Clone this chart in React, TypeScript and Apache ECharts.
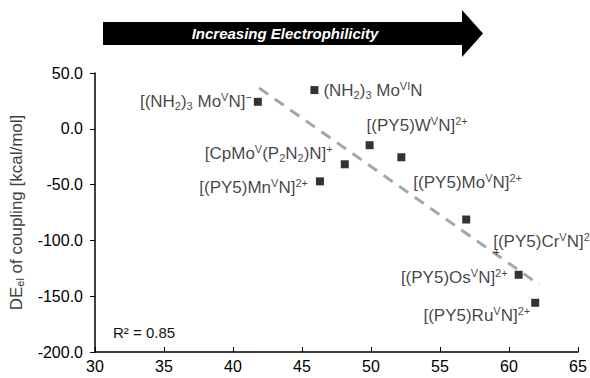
import React, { useEffect, useRef } from "react";
import * as echarts from "echarts";

const names = [
  "{n|[(NH}{sub|2}{n|)}{sub|3}{n| Mo}{sup|V}{n|N]}{sup|−}",
  "{n|(NH}{sub|2}{n|)}{sub|3}{n| Mo}{sup|VI}{n|N}",
  "{n|[CpMo}{sup|V}{n|(P}{sub|2}{n|N}{sub|2}{n|)N]}{sup|+}",
  "{n|[(PY5)Mn}{sup|V}{n|N]}{sup|2+}",
  "{n|[(PY5)W}{sup|V}{n|N]}{sup|2+}",
  "{n|[(PY5)Mo}{sup|V}{n|N]}{sup|2+}",
  "{n|[(PY5)Cr}{sup|V}{n|N]}{sup|2}\n{wrap|+}",
  "{n|[(PY5)Os}{sup|V}{n|N]}{sup|2+}",
  "{n|[(PY5)Ru}{sup|V}{n|N]}{sup|2+}",
];
const xValues = [41.8, 45.9, 48.1, 46.3, 49.9, 52.2, 56.9, 60.7, 61.9];
const yValues = [24.2, 34.7, -31.8, -47.1, -14.7, -25.5, -81.3, -130.8, -155.9];
const trendX = [41.9, 62.2];
const trendY = [36.5, -139.7];
const yTicks = [-200, -150, -100, -50, 0, 50];
const xTicks = [30, 35, 40, 45, 50, 55, 60, 65];

const labelPlacement: Array<{ position: string; offset: [number, number] }> = [
  { position: "left", offset: [3, 0] },
  { position: "right", offset: [0, 0] },
  { position: "left", offset: [-3, -11] },
  { position: "left", offset: [-3, 6] },
  { position: "right", offset: [-12, -20] },
  { position: "right", offset: [3, 25] },
  { position: "right", offset: [18, 22.5] },
  { position: "left", offset: [-2, 3] },
  { position: "left", offset: [4, 13] },
];

const FONT = "'Liberation Sans', Arial, sans-serif";

export default function App() {
  const ref = useRef<HTMLDivElement>(null);
  useEffect(() => {
    if (!ref.current) return;
    const chart = echarts.init(ref.current, undefined, { renderer: "svg" });
    const rich = {
      n: { fontSize: 17, lineHeight: 20, fontFamily: FONT, color: "#111" },
      sup: { fontSize: 11, lineHeight: 11, verticalAlign: "top", fontFamily: FONT, color: "#111" },
      sub: { fontSize: 11, lineHeight: 11, verticalAlign: "bottom", fontFamily: FONT, color: "#111" },
      wrap: { fontSize: 11, lineHeight: 1, fontFamily: FONT, color: "#111" },
    };
    const points = xValues.map((x, i) => ({
      value: [x, yValues[i]],
      label: {
        show: true,
        formatter: names[i],
        position: labelPlacement[i].position,
        distance: 5,
        offset: labelPlacement[i].offset,
        rich,
      },
    }));
    chart.setOption({
      animation: false,
      textStyle: { fontFamily: FONT },
      grid: { left: 92, right: 12, top: 73, bottom: 26, containLabel: false },
      xAxis: {
        type: "value",
        min: xTicks[0],
        max: xTicks[xTicks.length - 1],
        interval: 5,
        splitLine: { show: false },
        axisLine: { onZero: false, lineStyle: { color: "#000", width: 1.5 } },
        axisTick: { inside: true, length: 5, lineStyle: { color: "#000" } },
        axisLabel: { color: "#000", fontSize: 16, fontFamily: FONT, margin: 6 },
      },
      yAxis: {
        type: "value",
        min: yTicks[0],
        max: yTicks[yTicks.length - 1],
        interval: 50,
        splitLine: { show: false },
        axisLine: { show: true, onZero: false, lineStyle: { color: "#000", width: 1.5 } },
        axisTick: { show: true, inside: false, length: 5, lineStyle: { color: "#000" } },
        axisLabel: {
          color: "#000",
          fontSize: 16,
          fontFamily: FONT,
          margin: 12,
          formatter: (v: number) => v.toFixed(1),
        },
        name: "{n|DE}{sub|el}{n| of coupling [kcal/mol]}",
        nameLocation: "middle",
        nameRotate: 90,
        nameGap: 70,
        nameTextStyle: {
          rich: {
            n: { fontSize: 17, fontFamily: FONT, color: "#404040" },
            sub: { fontSize: 11, fontFamily: FONT, color: "#404040", verticalAlign: "bottom", lineHeight: 11 },
          },
        },
      },
      series: [
        {
          type: "line",
          data: trendX.map((x, i) => [x, trendY[i]]),
          showSymbol: false,
          symbol: "none",
          lineStyle: { color: "#a6a6a6", width: 3, type: [11, 8] },
          silent: true,
          z: 1,
        },
        {
          type: "scatter",
          data: points,
          symbol: "rect",
          symbolSize: 8,
          itemStyle: { color: "#000" },
          z: 3,
        },
      ],
      graphic: [
        {
          type: "polygon",
          shape: {
            points: [
              [103, 22],
              [462, 22],
              [462, 10],
              [483, 33.5],
              [462, 57],
              [462, 45],
              [103, 45],
            ],
          },
          style: { fill: "#000" },
        },
        {
          type: "text",
          x: 285,
          y: 33.5,
          style: {
            text: "Increasing Electrophilicity",
            fill: "#fff",
            font: `italic bold 15px ${FONT}`,
            align: "center",
            verticalAlign: "middle",
          },
        },
        {
          type: "text",
          x: 113,
          y: 332,
          style: {
            text: "R² = 0.85",
            fill: "#111",
            font: `15px ${FONT}`,
            align: "left",
            verticalAlign: "middle",
          },
        },
      ],
    });
    return () => chart.dispose();
  }, []);
  return (
    <div
      ref={ref}
      style={{ position: "fixed", left: 0, top: 0, width: 590, height: 378, background: "#fff" }}
    />
  );
}
